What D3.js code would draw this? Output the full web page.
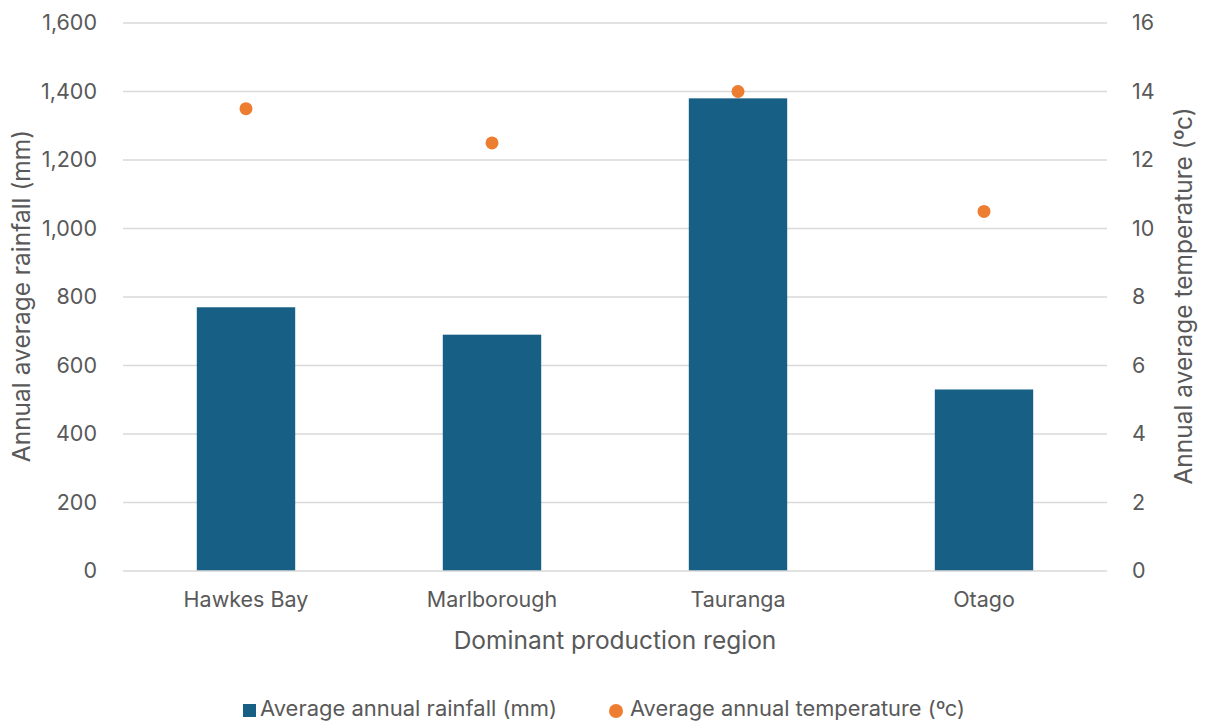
<!DOCTYPE html>
<html>
<head>
<meta charset="utf-8">
<script src="https://cdn.jsdelivr.net/npm/d3@7"></script>
<style>
  html, body { margin: 0; padding: 0; background: #fff; }
  svg { display: block; }
  text { font-family: Inter, "Open Sans", sans-serif; fill: #595959; }
</style>
</head>
<body>
<svg id="chart" width="1206" height="722"></svg>
<script>
// Regions and their climate figures
const regions = ["Hawkes Bay", "Marlborough", "Tauranga", "Otago"];
const rainfall = [770, 690, 1380, 530];          // mm per year
const temperature = [13.5, 12.5, 14, 10.5];      // degrees C
const rainTicks = [0, 200, 400, 600, 800, 1000, 1200, 1400, 1600];
const tempTicks = [0, 2, 4, 6, 8, 10, 12, 14, 16];

const barColor = "#175f84";
const dotColor = "#ed7d31";
const font = 'Inter, "Open Sans", sans-serif';

const svg = d3.select("#chart");
const m = { left: 123, right: 1107, top: 23, bottom: 571 };

const x = d3.scaleBand().domain(regions).range([m.left, m.right]).paddingInner(0.6).paddingOuter(0.3);
const yL = d3.scaleLinear().domain([0, 1600]).range([m.bottom, m.top]);
const yR = d3.scaleLinear().domain([0, 16]).range([m.bottom, m.top]);

// Gridlines
svg.append("g").selectAll("line").data(rainTicks.filter(t => t > 0)).join("line")
  .attr("x1", m.left).attr("x2", m.right)
  .attr("y1", d => yL(d)).attr("y2", d => yL(d))
  .attr("stroke", "#d9d9d9").attr("stroke-width", 1.3);

// Bars
svg.append("g").selectAll("rect").data(regions).join("rect")
  .attr("x", d => x(d)).attr("width", x.bandwidth())
  .attr("y", (d, i) => yL(rainfall[i]))
  .attr("height", (d, i) => yL(0) - yL(rainfall[i]))
  .attr("fill", barColor);

// Baseline
svg.append("line").attr("x1", m.left).attr("x2", m.right)
  .attr("y1", yL(0)).attr("y2", yL(0))
  .attr("stroke", "#d9d9d9").attr("stroke-width", 1.3);

// Temperature markers
svg.append("g").selectAll("circle").data(regions).join("circle")
  .attr("cx", d => x(d) + x.bandwidth() / 2)
  .attr("cy", (d, i) => yR(temperature[i]))
  .attr("r", 6.5).attr("fill", dotColor);

function styleAxis(g) {
  g.select(".domain").remove();
  g.selectAll("text").attr("font-size", 21.5).attr("fill", "#595959")
    .style("font-family", font);
}

// Left axis
svg.append("g").attr("transform", `translate(${m.left - 23},0)`)
  .call(d3.axisLeft(yL).tickValues(rainTicks).tickSize(0).tickFormat(d3.format(",")))
  .call(styleAxis);

// Right axis
svg.append("g").attr("transform", `translate(${m.right + 22},0)`)
  .call(d3.axisRight(yR).tickValues(tempTicks).tickSize(0))
  .call(styleAxis);

// Category axis
svg.append("g").attr("transform", `translate(0,${m.bottom + 18})`)
  .call(d3.axisBottom(x).tickSize(0))
  .call(styleAxis);

// Axis titles
svg.append("text").attr("x", 615).attr("y", 649)
  .attr("text-anchor", "middle").attr("font-size", 24.5)
  .text("Dominant production region");
svg.append("text").attr("transform", `translate(30,296) rotate(-90)`)
  .attr("text-anchor", "middle").attr("font-size", 24.5)
  .text("Annual average rainfall (mm)");
svg.append("text").attr("transform", `translate(1192,296) rotate(-90)`)
  .attr("text-anchor", "middle").attr("font-size", 24.5)
  .text("Annual average temperature (ºc)");

// Legend
const legend = svg.append("g");
legend.append("rect").attr("x", 243).attr("y", 704).attr("width", 13).attr("height", 13).attr("fill", barColor);
legend.append("text").attr("x", 260).attr("y", 716).attr("font-size", 21)
  .attr("textLength", 297).attr("lengthAdjust", "spacingAndGlyphs")
  .text("Average annual rainfall (mm)");
legend.append("circle").attr("cx", 616).attr("cy", 711).attr("r", 7).attr("fill", dotColor);
legend.append("text").attr("x", 630).attr("y", 716).attr("font-size", 21)
  .attr("textLength", 335).attr("lengthAdjust", "spacingAndGlyphs")
  .text("Average annual temperature (ºc)");
</script>
</body>
</html>
